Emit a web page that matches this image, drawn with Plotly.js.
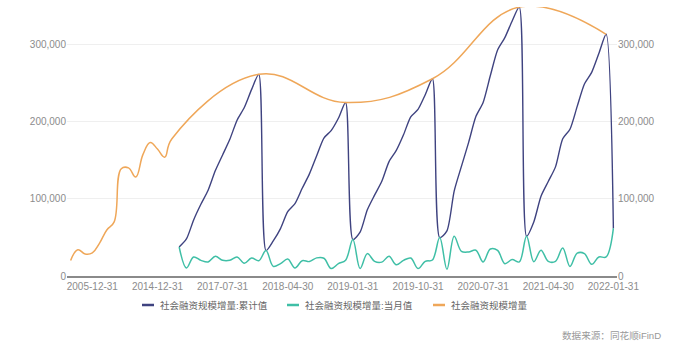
<!DOCTYPE html>
<html>
<head>
<meta charset="utf-8">
<script src="https://cdn.plot.ly/plotly-3.0.1.min.js"></script>
<style>html,body{margin:0;padding:0;background:#fff;}#chart{width:700px;height:350px;}</style>
</head>
<body>
<div id="chart"></div>
<script>
// Categories: annual points 2002-2016, then monthly 2017-01 .. 2022-01
var annualCats = ["2002-12-31","2003-12-31","2004-12-31","2005-12-31","2006-12-31","2007-12-31","2008-12-31","2009-12-31","2010-12-31","2011-12-31","2012-12-31","2013-12-31","2014-12-31","2015-12-31","2016-12-31"];
var monthlyCats = [
"2017-01-31","2017-02-28","2017-03-31","2017-04-30","2017-05-31","2017-06-30","2017-07-31","2017-08-31","2017-09-30","2017-10-31","2017-11-30","2017-12-31",
"2018-01-31","2018-02-28","2018-03-31","2018-04-30","2018-05-31","2018-06-30","2018-07-31","2018-08-31","2018-09-30","2018-10-31","2018-11-30","2018-12-31",
"2019-01-31","2019-02-28","2019-03-31","2019-04-30","2019-05-31","2019-06-30","2019-07-31","2019-08-31","2019-09-30","2019-10-31","2019-11-30","2019-12-31",
"2020-01-31","2020-02-29","2020-03-31","2020-04-30","2020-05-31","2020-06-30","2020-07-31","2020-08-31","2020-09-30","2020-10-31","2020-11-30","2020-12-31",
"2021-01-31","2021-02-28","2021-03-31","2021-04-30","2021-05-31","2021-06-30","2021-07-31","2021-08-31","2021-09-30","2021-10-31","2021-11-30","2021-12-31",
"2022-01-31"];
var categories = annualCats.concat(monthlyCats);

var tickLabels = ["2005-12-31","2014-12-31","2017-07-31","2018-04-30","2019-01-31","2019-10-31","2020-07-31","2021-04-30","2022-01-31"];

// 社会融资规模增量:累计值 (monthly categories only)
var cumulative = [
37600,48000,72700,93000,111200,136700,157000,177300,202000,218500,241700,261500,
33000,45500,61500,83500,93900,113700,132400,155900,178900,188500,204500,225000,
47200,56800,85800,104800,122800,148300,162800,183100,206400,216000,235000,255800,
49800,58600,110100,142100,173300,206700,224900,259900,293100,309100,330400,348600,
51500,70100,103500,122500,141500,177900,190300,219900,248900,264000,288700,313400,
61700];

// 社会融资规模增量:当月值 (monthly categories only)
var monthly = [
37600,10400,24700,20300,18200,25500,20300,20300,24700,16500,23200,19800,
33000,12500,16000,22000,10400,19800,18700,23500,23000,9600,16000,20500,
47200,9600,29000,19000,18000,25500,14500,20300,23300,9600,19000,20800,
49800,8800,51500,32000,31200,33400,18200,35000,33200,16000,21300,18200,
51500,18600,33400,19000,19000,36400,12400,29600,29000,15100,24700,24700,
61700];

// 社会融资规模增量 (annual)
var annualYears = ["2002-12-31","2003-12-31","2004-12-31","2005-12-31","2006-12-31","2007-12-31","2008-12-31","2009-12-31","2010-12-31","2011-12-31","2012-12-31","2013-12-31","2014-12-31","2015-12-31","2016-12-31","2017-12-31","2018-12-31","2019-12-31","2020-12-31","2021-12-31"];
var annualValues = [20112,34113,28629,30008,42696,59663,69802,139104,140191,128286,157631,173169,164571,154086,178022,261536,224920,255753,348634,313408];

var seriesNames = ["社会融资规模增量:累计值","社会融资规模增量:当月值","社会融资规模增量"];
var colors = ["#3f4380","#3fbfa6","#efa759"];

// align annual series onto full category list (null where no value)
var annualAligned = categories.map(function(c){
  var i = annualYears.indexOf(c);
  return i >= 0 ? annualValues[i] : null;
});

var font = "'Liberation Sans', 'Noto Sans CJK SC', sans-serif";

var traces = [
  {x: categories, y: annualAligned, name: seriesNames[2], type: 'scatter', mode: 'lines', connectgaps: true,
   line: {color: colors[2], width: 1.5, shape: 'spline', smoothing: 1.2}, yaxis: 'y2', hoverinfo: 'x+y'},
  {x: monthlyCats, y: cumulative, name: seriesNames[0], type: 'scatter', mode: 'lines',
   line: {color: colors[0], width: 1.4, shape: 'spline', smoothing: 0.7}, hoverinfo: 'x+y'},
  {x: monthlyCats, y: monthly, name: seriesNames[1], type: 'scatter', mode: 'lines',
   line: {color: colors[1], width: 1.5, shape: 'spline', smoothing: 1}, hoverinfo: 'x+y'}
];

var yRange = [0, 348800];
var yTicks = [0, 100000, 200000, 300000];

// paper coordinate helpers for legend placement (plot area 67..617 x, 7..276 y)
function px(x){ return (x - 67) / 550; }
function py(y){ return (276 - y) / 269; }

var legendItems = [
  {x0: 142, x1: 154, tx: 158, c: colors[0], t: seriesNames[0]},
  {x0: 287, x1: 299, tx: 303, c: colors[1], t: seriesNames[1]},
  {x0: 433, x1: 445, tx: 449, c: colors[2], t: seriesNames[2]}
];
var shapes = legendItems.map(function(it){
  return {type: 'line', xref: 'paper', yref: 'paper', x0: px(it.x0), x1: px(it.x1), y0: py(305), y1: py(305),
          line: {color: it.c, width: 2.5}};
});
var annotations = legendItems.map(function(it){
  return {xref: 'paper', yref: 'paper', x: px(it.tx), y: py(305), xanchor: 'left', yanchor: 'middle',
          text: it.t, showarrow: false, font: {family: font, size: 9.5, color: '#666'}};
});
annotations.push({xref: 'paper', yref: 'paper', x: px(663), y: py(335), xanchor: 'right', yanchor: 'middle',
  text: '数据来源：同花顺iFinD', showarrow: false, font: {family: font, size: 9.6, color: '#999'}});

var layout = {
  width: 700, height: 350,
  margin: {l: 67, r: 83, t: 7, b: 74, pad: 0},
  paper_bgcolor: '#fff', plot_bgcolor: '#fff',
  showlegend: false,
  font: {family: font, size: 10, color: '#8c8c8c'},
  xaxis: {type: 'category', categoryorder: 'array', categoryarray: categories,
          tickmode: 'array', tickvals: tickLabels, ticktext: tickLabels,
          showgrid: false, zeroline: false, showline: true, linecolor: '#8a8a8a', linewidth: 2,
          ticks: '', tickfont: {family: font, size: 10, color: '#8c8c8c'}, range: [-0.5, categories.length - 0.5]},
  yaxis: {range: yRange, tickmode: 'array', tickvals: yTicks, tickformat: ',d',
          showgrid: true, gridcolor: '#efefef', gridwidth: 1, zeroline: false, showline: false, ticks: '',
          tickfont: {family: font, size: 10, color: '#8c8c8c'}},
  yaxis2: {range: yRange, tickmode: 'array', tickvals: yTicks, tickformat: ',d', overlaying: 'y', side: 'right',
          showgrid: false, zeroline: false, showline: false, ticks: '',
          tickfont: {family: font, size: 10, color: '#8c8c8c'}},
  shapes: shapes,
  annotations: annotations
};

Plotly.newPlot('chart', traces, layout, {displayModeBar: false, staticPlot: true});
</script>
</body>
</html>
